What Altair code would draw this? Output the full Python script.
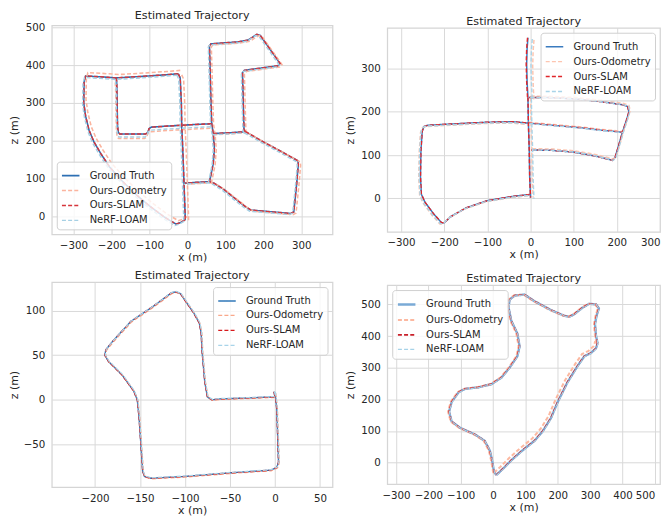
import altair as alt
import pandas as pd

SERIES = ["Ground Truth", "Ours-Odometry", "Ours-SLAM", "NeRF-LOAM"]

# ---------------- Panel 1 (top-left) : ground-truth segments (x, z) ----------------
P1_GT = [
    [(-24, 377), (-19, 366), (-16, 300), (-15, 241), (-12, 171), (-9, 88), (-6, 4), (-6, -9)],
    [(-6, -9), (-18, -16), (-30, -20), (-60, -2), (-100, 28), (-140, 62), (-175, 97), (-205, 131),
     (-228, 166), (-246, 197), (-259, 228), (-268, 265), (-273, 300), (-272, 355), (-268, 371),
     (-230, 369), (-187, 366), (-120, 370), (-60, 374), (-24, 377)],
    [(-187, 366), (-186, 350), (-184, 240), (-182, 222), (-178, 218), (-110, 218), (-104, 222),
     (-101, 232), (-95, 236), (-50, 239), (-15, 241), (20, 243), (64, 245)],
    [(153, 224), (149, 229), (147, 300), (145, 380), (150, 386), (238, 398), (244, 404), (192, 478),
     (183, 481), (160, 466), (133, 461), (62, 456), (58, 451), (60, 380), (62, 300), (64, 245),
     (68, 219), (71, 180), (68, 140), (62, 110), (58, 92)],
    [(68, 219), (110, 221), (153, 224)],
    [(153, 224), (200, 197), (250, 170), (291, 147), (292, 138), (287, 80), (280, 12), (272, 8),
     (167, 17), (150, 28), (120, 52), (94, 73), (70, 88), (58, 92), (20, 90), (-7, 88)],
]
# per-segment drift of each estimate relative to ground truth
P1_SHIFT = {
    "Ours-Odometry": [(9, -3), (6, 9), (-3, -12), (5, -3), (0, -3), (6, -3)],
    "Ours-SLAM": [(0, 0), (0, 0), (0, 0), (0, 0), (0, 0), (0, 0)],
    "NeRF-LOAM": [(-4, -3), (-3, -4), (-2, -8), (-3, -3), (-2, -3), (-3, -3)],
}

# ---------------- Panel 2 (top-right) ----------------
P2_GT = [
    [(-6, 371), (-8, 345), (-9, 310), (-8, 270), (-6, 233)],
    [(-6, 233), (-5, 175), (-3, 112), (-2, 50), (0, 2)],
    [(-2, 9), (-40, 5), (-100, -5), (-150, -22), (-185, -42), (-200, -56), (-206, -56), (-225, -35),
     (-245, -8), (-253, 10), (-255, 50), (-254, 110), (-251, 155), (-247, 166), (-238, 169),
     (-180, 172), (-100, 176), (-40, 177), (-5, 174)],
    [(-5, 174), (50, 169), (120, 163), (160, 158), (213, 153)],
    [(-3, 233), (40, 233), (100, 230), (160, 224), (215, 216), (225, 212), (228, 200), (222, 180),
     (213, 153), (205, 125), (196, 95), (190, 88), (182, 90), (150, 98), (100, 107), (50, 111), (2, 112)],
]
P2_SHIFT = {
    "Ours-Odometry": [(14, -5), (6, 0), (-4, -3), (0, 2), (3, 3)],
    "Ours-SLAM": [(-1, 0), (0, 0), (0, 0), (0, 0), (0, 0)],
    "NeRF-LOAM": [(10, -3), (8, -3), (-3, -2), (2, -1), (2, 0)],
}

# ---------------- Panel 3 (bottom-left) ----------------
P3_GT = [
    [(-1, 9), (0, 3), (-8, 3), (-30, 2), (-60, 1), (-70, 0), (-75, 3), (-78, 20), (-81, 55), (-82, 75),
     (-84, 86), (-90, 97), (-105, 119), (-110, 121), (-115, 120), (-135, 105), (-160, 88), (-180, 66),
     (-188, 56), (-189, 50), (-185, 43), (-170, 28), (-157, 10), (-153, 0), (-151, -20), (-149, -50),
     (-147, -80), (-145, -86), (-138, -88), (-100, -86), (-50, -82), (-5, -79), (2, -76), (4, -70),
     (3, -40), (2, -10), (1, 0), (0, 8)],
]
P3_SHIFT = {
    "Ours-Odometry": [(0.8, -0.6)],
    "Ours-SLAM": [(0, 0)],
    "NeRF-LOAM": [(0.5, 0.5)],
}

# ---------------- Panel 4 (bottom-right) ----------------
P4_GT = [
    [(10, -39), (30, -20), (56, 7), (90, 38), (128, 69), (154, 100), (179, 141), (200, 192), (230, 254),
     (261, 305), (282, 336), (302, 346), (318, 361), (323, 377)],
    [(323, 377), (318, 402), (315, 438), (320, 465), (327, 488), (318, 500), (297, 502), (277, 490),
     (251, 469), (236, 461), (220, 464), (179, 482), (128, 510), (97, 531), (67, 528), (51, 515),
     (48, 490), (56, 449), (75, 408), (82, 367), (75, 336), (51, 300), (26, 269), (-5, 248), (-46, 238),
     (-87, 233), (-106, 223), (-128, 192), (-136, 161), (-128, 130), (-102, 110), (-56, 89), (-26, 69),
     (-10, 38), (-3, 7), (3, -29), (10, -39)],
]
P4_SHIFT = {
    "Ours-Odometry": [(-7, 7), (-3, 0)],
    "Ours-SLAM": [(0, 0), (0, 0)],
    "NeRF-LOAM": [(1, -1), (1, -1)],
}

TITLE = "Estimated Trajectory"
DASH = [[1, 0], [4, 2.2], [4, 2.2], [4, 2.2]]


def build_df(gt, shift):
    rows = []
    for name in SERIES:
        for g, seg in enumerate(gt):
            dx, dy = (0, 0) if name == "Ground Truth" else shift[name][g]
            for k, (x, y) in enumerate(seg):
                rows.append({"series": name, "seg": g, "idx": k, "x": x + dx, "y": y + dy})
    return pd.DataFrame(rows)


def panel(gt, shift, xdom, ydom, xticks, yticks, w, h, colors, widths, orient, flush=False):
    df = build_df(gt, shift)
    leg = alt.Legend(title=None, orient=orient, offset=5, symbolType="stroke",
                     symbolSize=310, rowPadding=0, labelFontSize=10, labelOffset=9,
                     padding=4, cornerRadius=3, strokeColor="#d0d0d0",
                     fillColor="rgba(255,255,255,0.8)", labelColor="#262626",
                     labelFont="DejaVu Sans")
    cs = alt.Scale(domain=SERIES, range=colors)
    ds = alt.Scale(domain=SERIES, range=DASH)
    ws = alt.Scale(domain=SERIES, range=widths)
    layers = []
    for s in SERIES:
        layers.append(
            alt.Chart(df).transform_filter(alt.datum.series == s).mark_line(clip=True).encode(
                x=alt.X("x:Q", scale=alt.Scale(domain=xdom, nice=False, zero=False),
                        axis=alt.Axis(values=xticks, title="x (m)", labelFlush=flush)),
                y=alt.Y("y:Q", scale=alt.Scale(domain=ydom, nice=False, zero=False),
                        axis=alt.Axis(values=yticks, title="z (m)")),
                color=alt.Color("series:N", scale=cs, legend=leg),
                strokeDash=alt.StrokeDash("series:N", scale=ds, legend=leg),
                strokeWidth=alt.StrokeWidth("series:N", scale=ws, legend=leg),
                detail="seg:N",
                order="idx:Q",
            )
        )
    return alt.layer(*layers).properties(width=w, height=h, title=TITLE)


p1 = panel(P1_GT, P1_SHIFT, [-357, 382], [-47, 505], list(range(-300, 301, 100)),
           list(range(0, 501, 100)), 282, 210,
           ["#2c6fb3", "#fbb49e", "#d6353b", "#a6d0e4"], [1.6, 1.4, 1.4, 1.4], "bottom-left")
p2 = panel(P2_GT, P2_SHIFT, [-332, 300], [-77, 394], list(range(-300, 301, 100)),
           list(range(0, 301, 100)), 274, 205,
           ["#3a7bbf", "#fdc5b0", "#e0262b", "#a9d4e8"], [1.5, 1.4, 1.4, 1.4], "top-right",
           flush=True)
p3 = panel(P3_GT, P3_SHIFT, [-248, 64], [-98, 132], list(range(-200, 51, 50)),
           [-50, 0, 50, 100], 282, 206,
           ["#2f77b8", "#f9a88a", "#d7191c", "#a8d4e9"], [1.4, 1.3, 1.3, 1.3], "top-right")
p4 = panel(P4_GT, P4_SHIFT, [-327, 516], [-68, 561], list(range(-300, 501, 100)),
           list(range(0, 501, 100)), 274, 200,
           ["#7aaad6", "#fcb8a0", "#c9202a", "#a6d2e8"], [2.4, 1.3, 1.3, 1.3], "top-left",
           flush=7)

res = dict(color="independent", strokeDash="independent", strokeWidth="independent")
row1 = alt.hconcat(p1, p2, spacing=10, center=True).resolve_scale(**res).resolve_legend(**res)
row2 = alt.hconcat(p3, p4, spacing=10, center=True).resolve_scale(**res).resolve_legend(**res)

chart = (
    alt.vconcat(row1, row2, spacing=6)
    .resolve_scale(**res)
    .resolve_legend(**res)
    .properties(padding={"left": 0, "top": 0, "right": 0, "bottom": 0})
    .configure_view(stroke="#d5d5d5", strokeWidth=1.25)
    .configure_axis(
        labelFont="DejaVu Sans", labelFontSize=10.3, labelColor="#262626",
        titleFont="DejaVu Sans", titleFontSize=11, titleFontWeight="normal", titleColor="#262626",
        gridColor="#d9d9d9", gridWidth=1, domain=False, ticks=False, tickSize=0,
        labelOverlap=False,
    )
    .configure_axisY(labelPadding=7, minExtent=28, maxExtent=28, titlePadding=4)
    .configure_axisX(labelPadding=6, minExtent=17, maxExtent=17, titlePadding=0)
    .configure_title(font="DejaVu Sans", fontSize=11.2, fontWeight="normal", color="#262626", offset=1)
)

chart.save("out.html", embed_options={"renderer": "svg", "actions": False})
